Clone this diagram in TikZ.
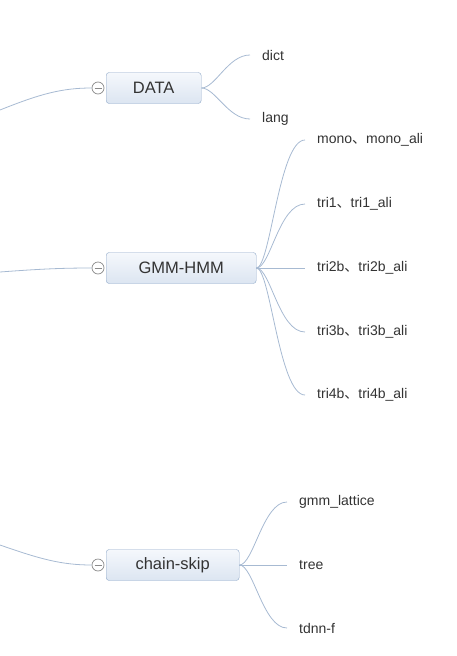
\documentclass[tikz,border=0pt]{standalone}
\usepackage{fontspec}
\setmainfont{Liberation Sans}
\newfontfamily\cjk{Noto Sans CJK SC}
\usetikzlibrary{positioning}
\definecolor{boxline}{HTML}{8FA8C8}
\definecolor{boxtop}{HTML}{F5F8FC}
\definecolor{boxbot}{HTML}{DCE5F1}
\definecolor{branchcol}{HTML}{A7BAD2}
\definecolor{foldcol}{HTML}{8A8A8A}
\newcommand{\dun}{{\cjk 、}}

\begin{document}
\begin{tikzpicture}[
    x=1pt, y=-1pt,
    topic/.style={draw=boxline, rounded corners=3pt, top color=boxtop, bottom color=boxbot, minimum height=31pt, anchor=west, inner sep=0pt, font=\fontsize{16.5}{18}\selectfont, text=black!80},
    leaf/.style={anchor=west, inner xsep=12pt, inner ysep=2pt, font=\fontsize{14}{16}\selectfont, text=black!80},
    fold/.style={circle, draw=foldcol, fill=white, minimum size=12pt, inner sep=0pt, line width=0.7pt,
        path picture={\draw[foldcol, line width=0.7pt] ([xshift=2.5pt]path picture bounding box.west) -- ([xshift=-2.5pt]path picture bounding box.east);}},
    branch/.style={draw=branchcol, line width=0.8pt}
]
    \useasboundingbox (0,0) rectangle (456,656);

    % ================= TOPICS =================
    \node[topic, minimum width=95pt] (DATA) at (106, 88) {DATA};
    \node[topic, minimum width=150pt] (GMM) at (106, 268) {GMM-HMM};
    \node[topic, minimum width=133pt] (CHAIN) at (106, 565) {chain-skip};

    \node[fold] (foldDATA) at (98, 88) {};
    \node[fold] (foldGMM) at (98, 268) {};
    \node[fold] (foldCHAIN) at (98, 565) {};

    % incoming lines from the left edge
    \coordinate (inDATA) at (0, 110);
    \coordinate (inGMM) at (0, 272);
    \coordinate (inCHAIN) at (0, 545);

    \draw[branch] (inDATA) .. controls +(40,-16) and +(-30,0) .. (foldDATA.west);
    \draw[branch] (inGMM) .. controls +(40,-3) and +(-30,0) .. (foldGMM.west);
    \draw[branch] (inCHAIN) .. controls +(40,14) and +(-30,0) .. (foldCHAIN.west);

    % ================= DATA LEAVES =================
    \node[leaf] (DICT) at (250, 55) {dict};
    \node[leaf] (LANG) at (250, 119) {lang};

    \draw[branch] (DATA.east) .. controls +(14,0) and +(-22,0) .. (DICT.west);
    \draw[branch] (DATA.east) .. controls +(14,0) and +(-22,0) .. (LANG.west);

    % ================= GMM-HMM LEAVES =================
    \node[leaf] (MONO) at (305, 140) {mono\dun mono\_ali};
    \node[leaf] (TRI1) at (305, 204) {tri1\dun tri1\_ali};
    \node[leaf] (TRI2B) at (305, 268) {tri2b\dun tri2b\_ali};
    \node[leaf] (TRI3B) at (305, 332) {tri3b\dun tri3b\_ali};
    \node[leaf] (TRI4B) at (305, 395) {tri4b\dun tri4b\_ali};

    \draw[branch] (GMM.east) .. controls +(14,0) and +(-26,0) .. (MONO.west);
    \draw[branch] (GMM.east) .. controls +(14,0) and +(-26,0) .. (TRI1.west);
    \draw[branch] (GMM.east) -- (TRI2B.west);
    \draw[branch] (GMM.east) .. controls +(14,0) and +(-26,0) .. (TRI3B.west);
    \draw[branch] (GMM.east) .. controls +(14,0) and +(-26,0) .. (TRI4B.west);

    % ================= CHAIN-SKIP LEAVES =================
    \node[leaf] (LATTICE) at (287, 502) {gmm\_lattice};
    \node[leaf] (TREE) at (287, 565) {tree};
    \node[leaf] (TDNN) at (287, 628) {tdnn-f};

    \draw[branch] (CHAIN.east) .. controls +(14,0) and +(-24,0) .. (LATTICE.west);
    \draw[branch] (CHAIN.east) -- (TREE.west);
    \draw[branch] (CHAIN.east) .. controls +(14,0) and +(-24,0) .. (TDNN.west);

\end{tikzpicture}
\end{document}
